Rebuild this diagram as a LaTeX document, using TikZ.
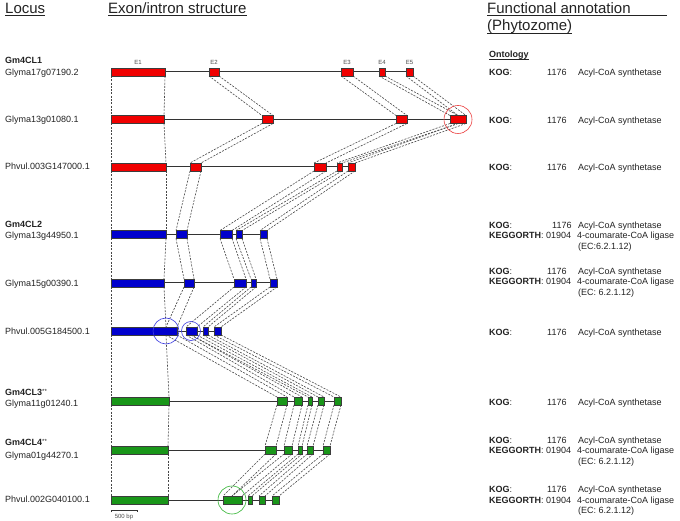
\documentclass[tikz,border=0pt]{standalone}
\usepackage{fontspec}
\setmainfont{Liberation Sans}
\usetikzlibrary{calc,backgrounds,positioning}
\definecolor{exred}{RGB}{240,0,0}
\definecolor{exblue}{RGB}{0,0,205}
\definecolor{exgreen}{RGB}{25,150,25}
\definecolor{txt}{RGB}{35,35,35}
\definecolor{edgecol}{RGB}{60,60,60}
\definecolor{cred}{RGB}{235,60,60}
\definecolor{cblue}{RGB}{60,60,225}
\definecolor{cgreen}{RGB}{50,180,50}
\tikzset{
  exon/.style={draw=edgecol, line width=0.5pt, minimum height=8pt, inner sep=0pt, outer sep=0pt},
  link/.style={draw=black!72, line width=0.6pt, dash pattern=on 2pt off 1.3pt},
  intron/.style={draw=black!80, line width=1pt},
  lab/.style={anchor=base west, inner sep=0pt, text=txt, font=\fontsize{9}{10}\selectfont},
  hdr/.style={anchor=base west, inner sep=0pt, text=txt, font=\fontsize{15}{17}\selectfont},
  elab/.style={inner sep=0pt, text=black!70, font=\fontsize{6}{6.5}\selectfont},
  uline/.style={draw=txt, line width=0.8pt},
  ring/.style={circle, draw, line width=0.6pt, inner sep=0pt, fill=none}
}
\newcommand\ex[5]{\node[exon,fill=#5,minimum width={(#4-#3)*1pt}] (#1) at ({(#3+#4)/2},#2) {};}
\newcommand\lk[2]{\draw[link] (#1.south west) -- (#2.north west); \draw[link] (#1.south east) -- (#2.north east);}
\newcommand\kogrow[3]{\node[lab] (k#1) at (489,#2) {\textbf{KOG}:}; \node[lab] (n#1) at (#3,#2) {1176}; \node[lab] (a#1) at (578,#2) {Acyl-CoA synthetase};}
\newcommand\keggrow[3]{\node[lab] (kg#1) at (489,#2) {\textbf{KEGGORTH}: 01904}; \node[lab] (c#1) at (577,#2) {4-coumarate-CoA ligase}; \node[lab] (ec#1) at (578,{#2+10.5}) {#3};}
\begin{document}
\begin{tikzpicture}[x=1pt,y=-1pt]
\useasboundingbox (0,0) rectangle (680,521);
% ---- exons ----
\ex{r1e1}{72}{111}{165}{exred}\ex{r1e2}{72}{209}{219}{exred}\ex{r1e3}{72}{341}{353}{exred}\ex{r1e4}{72}{379}{385}{exred}\ex{r1e5}{72}{406}{413}{exred}
\ex{r2e1}{119.5}{111}{164}{exred}\ex{r2e2}{119.5}{262}{273}{exred}\ex{r2e3}{119.5}{396}{407}{exred}\ex{r2e4}{119.5}{450}{466}{exred}
\ex{r3e1}{167}{111}{166}{exred}\ex{r3e2}{167}{190}{201}{exred}\ex{r3e3}{167}{314}{326}{exred}\ex{r3e4}{167}{337}{342}{exred}\ex{r3e5}{167}{348}{355}{exred}
\ex{r4e1}{234.5}{111}{166}{exblue}\ex{r4e2}{234.5}{176}{187}{exblue}\ex{r4e3}{234.5}{220}{232}{exblue}\ex{r4e4}{234.5}{236}{242}{exblue}\ex{r4e5}{234.5}{260}{267}{exblue}
\ex{r5e1}{283}{111}{164}{exblue}\ex{r5e2}{283}{184}{194}{exblue}\ex{r5e3}{283}{234}{246}{exblue}\ex{r5e4}{283}{251}{256}{exblue}\ex{r5e5}{283}{270}{277}{exblue}
\ex{r6e1}{331}{111}{177}{exblue}\ex{r6e2}{331}{186}{197}{exblue}\ex{r6e3}{331}{203}{208}{exblue}\ex{r6e4}{331}{214}{221}{exblue}
\ex{r7e1}{401}{111}{169}{exgreen}\ex{r7e2}{401}{277}{287}{exgreen}\ex{r7e3}{401}{294}{302}{exgreen}\ex{r7e4}{401}{308}{312}{exgreen}\ex{r7e5}{401}{318}{324}{exgreen}\ex{r7e6}{401}{334}{341}{exgreen}
\ex{r8e1}{450}{111}{168}{exgreen}\ex{r8e2}{450}{265}{276}{exgreen}\ex{r8e3}{450}{284}{292}{exgreen}\ex{r8e4}{450}{298}{302}{exgreen}\ex{r8e5}{450}{307}{313}{exgreen}\ex{r8e6}{450}{323}{330}{exgreen}
\ex{r9e1}{500}{111}{168}{exgreen}\ex{r9e2}{500}{223}{242}{exgreen}\ex{r9e3}{500}{248}{252}{exgreen}\ex{r9e4}{500}{259}{265}{exgreen}\ex{r9e5}{500}{272}{279}{exgreen}
% split points on merged exons
\coordinate (r2mt) at (458,115.5); \coordinate (r2mb) at (458,123.5);
\coordinate (r6jt) at (166,327); \coordinate (r6jb) at (166,335);
\coordinate (r6kb) at (191,335);
\coordinate (r9kt) at (232,496);
\begin{scope}[on background layer]
\fill[white] (0,0) rectangle (680,521);
% introns
\draw[intron] (r1e1.east) -- (r1e5.west);
\draw[intron] (r2e1.east) -- (r2e4.west);
\draw[intron] (r3e1.east) -- (r3e5.west);
\draw[intron] (r4e1.east) -- (r4e5.west);
\draw[intron] (r5e1.east) -- (r5e5.west);
\draw[intron] (r6e1.east) -- (r6e4.west);
\draw[intron] (r7e1.east) -- (r7e6.west);
\draw[intron] (r8e1.east) -- (r8e6.west);
\draw[intron] (r9e1.east) -- (r9e5.west);
% row1 -> row2
\lk{r1e1}{r2e1}\lk{r1e2}{r2e2}\lk{r1e3}{r2e3}
\draw[link] (r1e4.south west) -- (r2e4.north west); \draw[link] (r1e4.south east) -- (r2mt);
\draw[link] (r1e5.south west) -- (r2mt); \draw[link] (r1e5.south east) -- (r2e4.north east);
% row2 -> row3
\lk{r2e1}{r3e1}\lk{r2e2}{r3e2}\lk{r2e3}{r3e3}
\draw[link] (r2e4.south west) -- (r3e4.north west); \draw[link] (r2mb) -- (r3e4.north east);
\draw[link] (r2mb) -- (r3e5.north west); \draw[link] (r2e4.south east) -- (r3e5.north east);
% row3 -> row4, row4 -> row5
\lk{r3e1}{r4e1}\lk{r3e2}{r4e2}\lk{r3e3}{r4e3}\lk{r3e4}{r4e4}\lk{r3e5}{r4e5}
\lk{r4e1}{r5e1}\lk{r4e2}{r5e2}\lk{r4e3}{r5e3}\lk{r4e4}{r5e4}\lk{r4e5}{r5e5}
% row5 -> row6
\draw[link] (r5e1.south west) -- (r6e1.north west); \draw[link] (r5e1.south east) -- (r6jt);
\draw[link] (r5e2.south west) -- (r6jt); \draw[link] (r5e2.south east) -- (r6e1.north east);
\lk{r5e3}{r6e2}\lk{r5e4}{r6e3}\lk{r5e5}{r6e4}
% row6 -> row7
\draw[link] (r6e1.south west) -- (r7e1.north west); \draw[link] (r6jb) -- (r7e1.north east);
\draw[link] (r6jb) -- (r7e2.north west); \draw[link] (r6e1.south east) -- (r7e2.north east);
\draw[link] (r6e2.south west) -- (r7e3.north west); \draw[link] (r6kb) -- (r7e3.north east);
\draw[link] (r6kb) -- (r7e4.north west); \draw[link] (r6e2.south east) -- (r7e4.north east);
\lk{r6e3}{r7e5}\lk{r6e4}{r7e6}
% row7 -> row8
\lk{r7e1}{r8e1}\lk{r7e2}{r8e2}\lk{r7e3}{r8e3}\lk{r7e4}{r8e4}\lk{r7e5}{r8e5}\lk{r7e6}{r8e6}
% row8 -> row9
\lk{r8e1}{r9e1}
\draw[link] (r8e2.south west) -- (r9e2.north west); \draw[link] (r8e2.south east) -- (r9kt);
\draw[link] (r8e3.south west) -- (r9kt); \draw[link] (r8e3.south east) -- (r9e2.north east);
\lk{r8e4}{r9e3}\lk{r8e5}{r9e4}\lk{r8e6}{r9e5}
\end{scope}
% exon labels
\node[elab,above=3.6pt of r1e1] (t1) {E1};
\node[elab,above=3.6pt of r1e2] (t2) {E2};
\node[elab,above=3.6pt of r1e3] (t3) {E3};
\node[elab,above=3.6pt of r1e4] (t4) {E4};
\node[elab,above=3.6pt of r1e5] (t5) {E5};
% highlight circles
\node[ring,draw=cred,minimum size=28pt] (c1) at (458,119.5) {};
\node[ring,draw=cblue,minimum size=26pt] (c2) at (166,331) {};
\node[ring,draw=cblue,minimum size=19pt] (c3) at (191,331) {};
\node[ring,draw=cgreen,minimum size=28pt] (c4) at (232,500) {};
% scale bar
\coordinate (sb1) at (111,510); \coordinate (sb2) at (137,510);
\draw[line width=0.7pt,black!80] ($(sb1)+(0,2)$) -- (sb1) -- (sb2) -- ($(sb2)+(0,2)$);
\node[elab,anchor=base] (sbl) at (124,518) {500 bp};
% headers
\node[hdr] (hl) at (5,13.3) {Locus};
\node[hdr] (he) at (108,13.3) {Exon/intron structure};
\node[hdr] (hf) at (487,13.3) {Functional annotation};
\node[hdr] (hp) at (487,31) {(Phytozome)};
\coordinate (ulend) at (667,0);
\draw[uline] ($(hl.base west)+(0,2)$) -- ($(hl.base east)+(0,2)$);
\draw[uline] ($(he.base west)+(0,2)$) -- ($(he.base east)+(0,2)$);
\draw[uline] ($(hf.base west)+(0,2)$) -- ($(hf.base west -| ulend)+(0,2)$);
\draw[uline] ($(hp.base west)+(0,2)$) -- ($(hp.base east)+(0,2)$);
% left labels
\node[lab] (g1) at (5,64) {\textbf{Gm4CL1}};
\node[lab] (l1) at (5,76) {Glyma17g07190.2};
\node[lab] (l2) at (5,122.5) {Glyma13g01080.1};
\node[lab] (l3) at (5,170) {Phvul.003G147000.1};
\node[lab] (g2) at (5,227.5) {\textbf{Gm4CL2}};
\node[lab] (l4) at (5,238.3) {Glyma13g44950.1};
\node[lab] (l5) at (5,286.5) {Glyma15g00390.1};
\node[lab] (l6) at (5,334.5) {Phvul.005G184500.1};
\node[lab] (g3) at (5,395.5) {\textbf{Gm4CL3}\raisebox{2pt}{\fontsize{6}{6}\selectfont**}};
\node[lab] (l7) at (5,406.5) {Glyma11g01240.1};
\node[lab] (g4) at (5,445) {\textbf{Gm4CL4}\raisebox{2pt}{\fontsize{6}{6}\selectfont**}};
\node[lab] (l8) at (5,458) {Glyma01g44270.1};
\node[lab] (l9) at (5,502.5) {Phvul.002G040100.1};
% annotations
\node[lab] (ont) at (489,57.3) {\textbf{Ontology}};
\draw[line width=0.6pt,txt] ($(ont.base west)+(0,1.6)$) -- ($(ont.base east)+(0,1.6)$);
\kogrow{1}{75.4}{547}
\kogrow{2}{123.3}{547}
\kogrow{3}{170.7}{547}
\kogrow{4}{228.2}{552}\keggrow{4}{238.6}{(EC:6.2.1.12)}
\kogrow{5}{274.7}{547}\keggrow{5}{285}{(EC: 6.2.1.12)}
\kogrow{6}{335.7}{547}
\kogrow{7}{405.3}{547}
\kogrow{8}{443}{547}\keggrow{8}{453.5}{(EC: 6.2.1.12)}
\kogrow{9}{492.7}{547}\keggrow{9}{503}{(EC: 6.2.1.12)}
\end{tikzpicture}
\end{document}
